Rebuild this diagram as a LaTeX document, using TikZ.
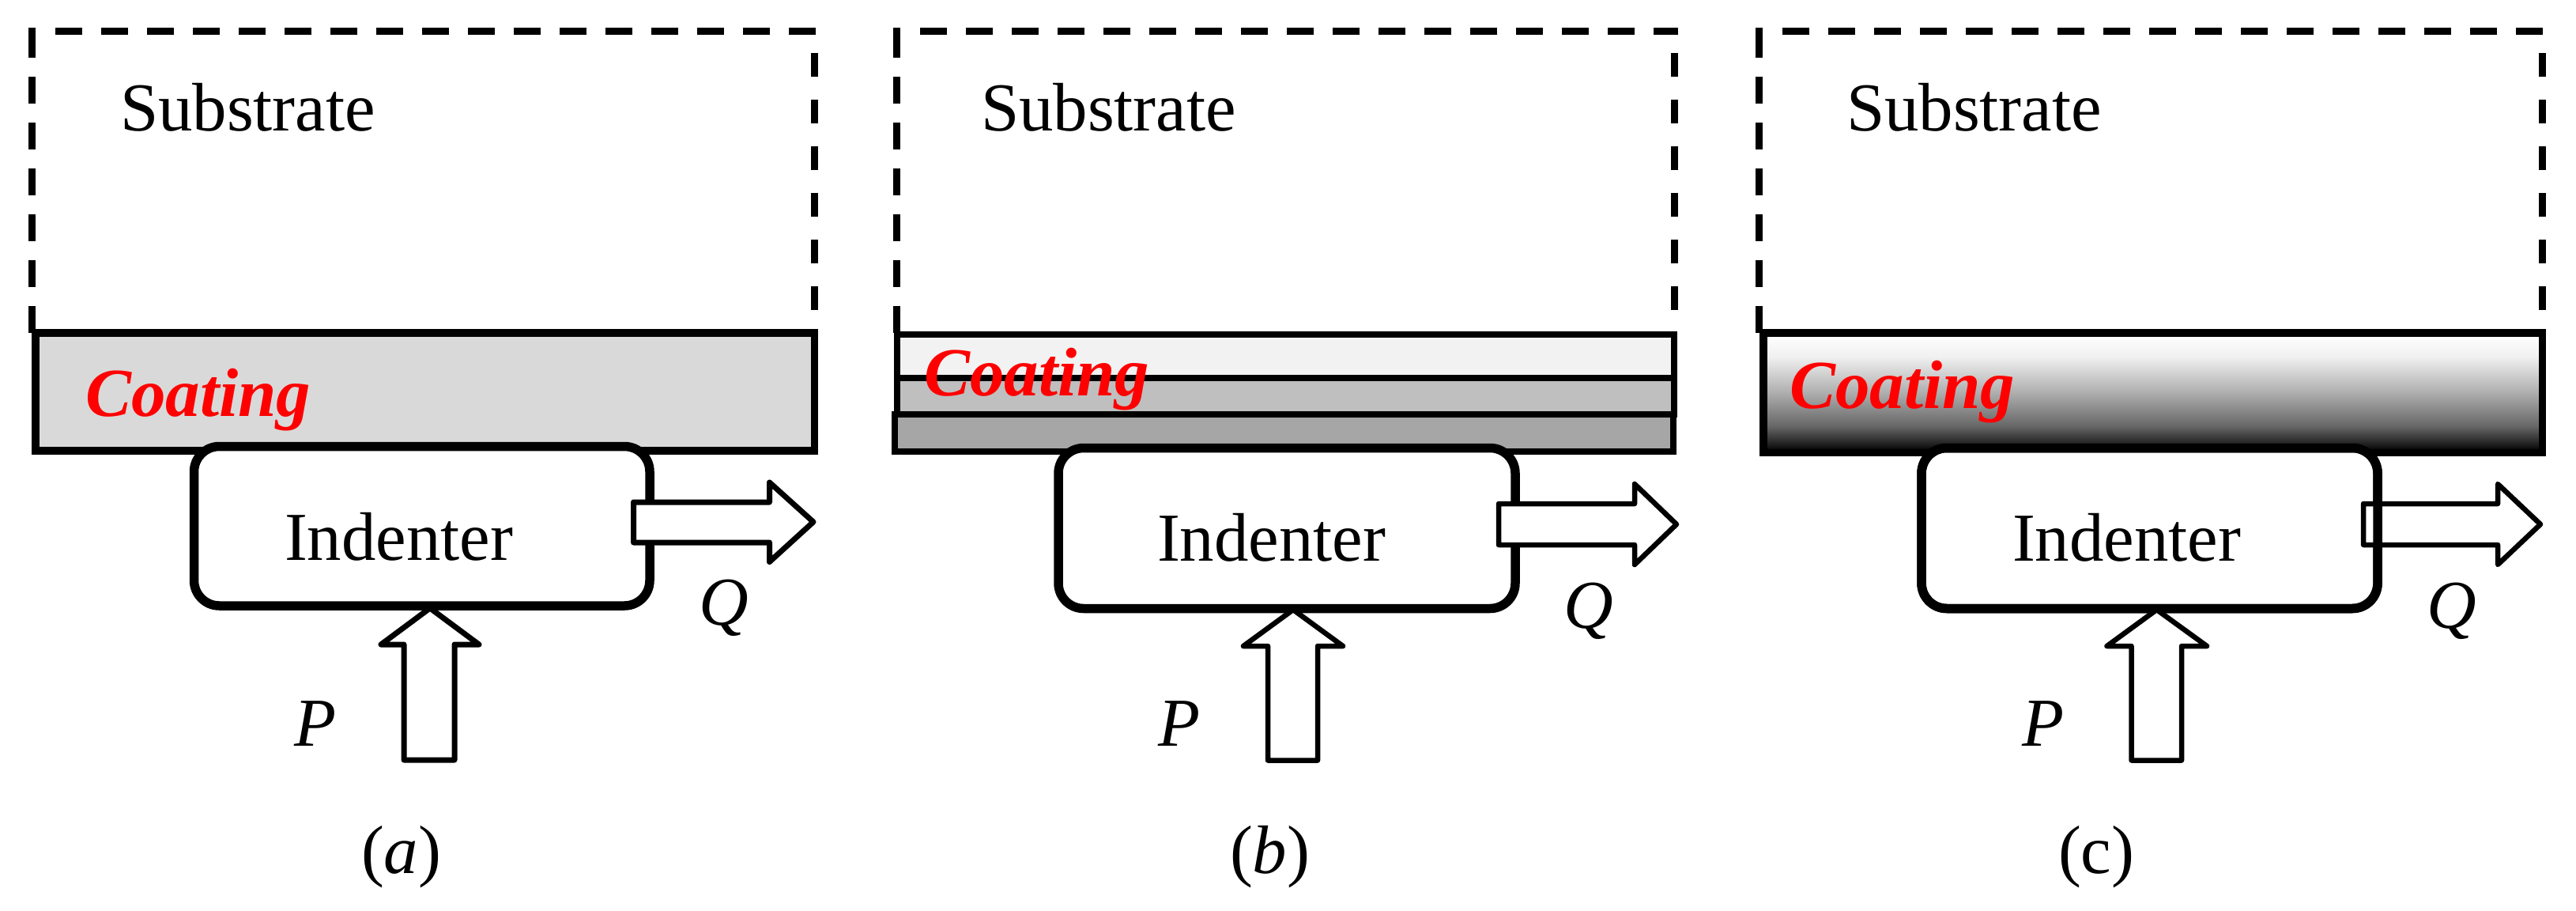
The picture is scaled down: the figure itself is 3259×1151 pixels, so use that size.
\documentclass[tikz,border=0pt]{standalone}
\usepackage{fontspec}
\setmainfont{Liberation Serif}
\pgfdeclareverticalshading{coatgrad}{100bp}{color(0bp)=(black); color(26bp)=(black); color(28bp)=(black!90); color(36bp)=(black!60); color(51bp)=(black!30); color(65bp)=(black!6); color(74bp)=(white); color(100bp)=(white)}
\tikzset{
  lbl/.style={inner sep=0pt,outer sep=0pt,anchor=base west,font=\fontsize{86.8}{100}\selectfont},
  coatlbl/.style={lbl,text=red,font=\fontsize{87}{100}\selectfont\bfseries\itshape},
  subline/.style={draw=black,line width=9pt},
  layer/.style={draw=black,line width=9.5pt,line join=miter},
  thinlayer/.style={draw=black,line width=8pt,line join=miter},
  indenterbox/.style={draw=black,line width=11.5pt,rounded corners=32pt},
  blockarrow/.style={draw=black,fill=white,line width=6.5pt,line join=round},
  heavyarrow/.style={blockarrow,line width=7pt}
}
% #1 left, #2 right
\newcommand{\subbox}[2]{%
  \draw[subline] (#1,35) -- (#1,45);
  \draw[subline,dash pattern=on 34pt off 24pt] (#1,39) -- (#1,421);
  \draw[subline,dash pattern=on 34pt off 24pt] ({#1+29.5},39.5) -- ({#2+4.5},39.5);
  \draw[subline,dash pattern=on 30pt off 29pt] (#2,67) -- (#2,394);}
% #1 shaft start, #2 head base, #3 tip
\newcommand{\qarrow}[3]{\draw[blockarrow] (#1,637) -- (#2,637) -- (#2,612) -- (#3,663) -- (#2,714) -- (#2,689) -- (#1,689) -- cycle;}
% #1 head left, #2 shaft left, #3 tip, #4 shaft right, #5 head right
\newcommand{\parrow}[5]{\draw[blockarrow] (#2,961.5) -- (#2,817) -- (#1,817) -- (#3,771) -- (#5,817) -- (#4,817) -- (#4,961.5) -- cycle;}
\begin{document}
\begin{tikzpicture}[x=1pt,y=-1pt]
\useasboundingbox (0,0) rectangle (3259,1151);
\fill[white] (0,0) rectangle (3259,1151);

% --- panel a
\subbox{40.5}{1030.5}
\draw[layer,fill=black!15] (45,421) rectangle (1030.5,570);
\node[coatlbl] (coata) at (108,526) {Coating};
\draw[indenterbox,fill=white] (245.5,564.5) rectangle (822,766);
\node[lbl] (inda) at (360,708) {Indenter};
\draw[heavyarrow] (801.5,635) -- (973.5,635) -- (973.5,610) -- (1029,660) -- (973.5,710.5) -- (973.5,686) -- (801.5,686) -- cycle;
\draw[heavyarrow] (511,961) -- (511,815) -- (482,815) -- (544,769) -- (606,815) -- (575,815) -- (575,961) -- cycle;
\node[lbl] (suba) at (152,165) {Substrate};
\node[lbl] (qa) at (884,790) {\itshape Q};
\node[lbl] (pa) at (372,943) {\itshape P};
\node[lbl] (capa) at (457,1104) {(\textit{a})};

% --- panel b
\subbox{1134.5}{2118}
\draw[thinlayer,fill=black!5] (1134.5,423) rectangle (2118,478);
\draw[thinlayer,fill=black!25] (1134.5,478) rectangle (2118,524);
\draw[thinlayer,fill=black!35] (1131.5,524) rectangle (2117,571);
\node[coatlbl] (coatb) at (1169,500) {Coating};
\draw[indenterbox,fill=white] (1339,566.5) rectangle (1917,769.5);
\node[lbl] (indb) at (1464,709) {Indenter};
\qarrow{1896}{2068}{2121}
\parrow{1573}{1604}{1636}{1667}{1699}
\node[lbl] (subb) at (1241,165) {Substrate};
\node[lbl] (qb) at (1978,794) {\itshape Q};
\node[lbl] (pb) at (1465,943) {\itshape P};
\node[lbl] (capb) at (1556,1104) {(\textit{b})};

% --- panel c
\subbox{2225.5}{3216.5}
\shade[shading=coatgrad] (2231,421) rectangle (3216.5,572.5);
\draw[layer] (2231,421) rectangle (3216.5,572.5);
\node[coatlbl] (coatc) at (2264,516) {Coating};
\draw[indenterbox,fill=white] (2431,566.5) rectangle (3008,769.5);
\node[lbl] (indc) at (2546,709) {Indenter};
\qarrow{2990}{3160}{3214}
\draw[indenterbox] (2431,566.5) rectangle (3008,769.5);
\parrow{2665.5}{2696.5}{2728.5}{2760}{2792}
\node[lbl] (subc) at (2336,165) {Substrate};
\node[lbl] (qc) at (3070,794) {\itshape Q};
\node[lbl] (pc) at (2558,943) {\itshape P};
\node[lbl] (capc) at (2604,1104) {(c)};
\end{tikzpicture}
\end{document}
